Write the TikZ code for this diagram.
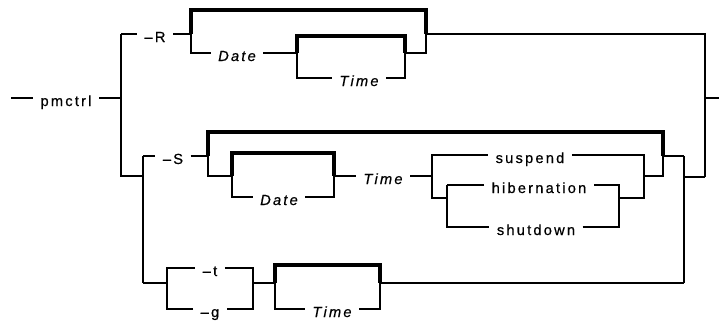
\documentclass[tikz,border=0pt]{standalone}
\usepackage{fontspec}
\setsansfont{Liberation Sans}[LetterSpace=15,FakeBold=0.6]
\usepackage{tikz}

\begin{document}
\begin{tikzpicture}[x=0.75pt,y=-0.75pt,
  rail/.style={line width=0.9pt},
  dflt/.style={line width=2.3pt},
  kw/.style={font=\sffamily\fontsize{11}{13}\selectfont,inner xsep=5.5pt,inner ysep=0pt,text height=12pt,text depth=0pt},
  var/.style={kw,font=\sffamily\itshape\fontsize{11}{13}\selectfont}]
\useasboundingbox (0,0) rectangle (719,322);
\coordinate (in) at (11,98);
\coordinate (out) at (719,98);
\node[kw] (cmd) at (66,98) {pmctrl};
\draw[rail] (in) -- (cmd.west) (cmd.east) -- (121,98);
\draw[rail] (121,34) -- (121,176) -- (143,176);
% -R branch
\node[kw] (optR) at (155,34) {–R};
\node[var] (dateR) at (237,53) {Date};
\node[var] (timeR) at (359,78) {Time};
\draw[rail] (121,34) -- (optR.west) (optR.east) -- (191,34);
\draw[dflt] (191,34) |- (426,10) -- (426,34);
\draw[rail] (191,34) |- (dateR.west) (dateR.east) -- (297,53);
\draw[dflt] (297,53) |- (405,36) -- (405,53);
\draw[rail] (297,53) |- (timeR.west) (timeR.east) -| (405,53) -- (426,53) -- (426,34) -- (705,34) -- (705,177);
\draw[rail] (705,98) -- (out);
% -S branch
\node[kw] (optS) at (173,156) {–S};
\node[var] (dateS) at (279,197) {Date};
\node[var] (timeS) at (383,176) {Time};
\node[kw] (susp) at (530,155) {suspend};
\node[kw] (hib) at (539,185) {hibernation};
\node[kw] (shut) at (536,227) {shutdown};
\draw[rail] (143,156) -- (143,283);
\draw[rail] (143,156) -- (optS.west) (optS.east) -- (208,156);
\draw[dflt] (208,156) |- (663,132) -- (663,156);
\draw[rail] (208,156) |- (232,176);
\draw[dflt] (232,176) |- (334,153) -- (334,176);
\draw[rail] (232,176) |- (dateS.west) (dateS.east) -| (334,176) -- (timeS.west) (timeS.east) -- (432,176);
\draw[rail] (432,176) |- (susp.west) (susp.east) -| (644,198) -- (619,198);
\draw[rail] (432,176) |- (447,198);
\draw[rail] (447,185) |- (shut.west) (shut.east) -| (619,185) -- (hib.east) (hib.west) -- (447,185);
\draw[rail] (644,176) -| (663,156) -- (684,156);
\draw[rail] (684,156) -- (684,283);
\draw[rail] (684,177) -- (705,177);
% -t / -g branch
\node[kw] (optt) at (210,268) {–t};
\node[kw] (optg) at (210,309) {–g};
\node[var] (timeT) at (332,309) {Time};
\draw[rail] (143,283) -- (167,283);
\draw[rail] (167,283) |- (optt.west) (optt.east) -| (253,309) -- (optg.east) (optg.west) -| (167,283);
\draw[rail] (253,283) -- (275,283);
\draw[dflt] (275,283) |- (380,265) -- (380,283);
\draw[rail] (275,283) |- (timeT.west) (timeT.east) -| (380,283) -- (684,283);
\end{tikzpicture}
\end{document}
